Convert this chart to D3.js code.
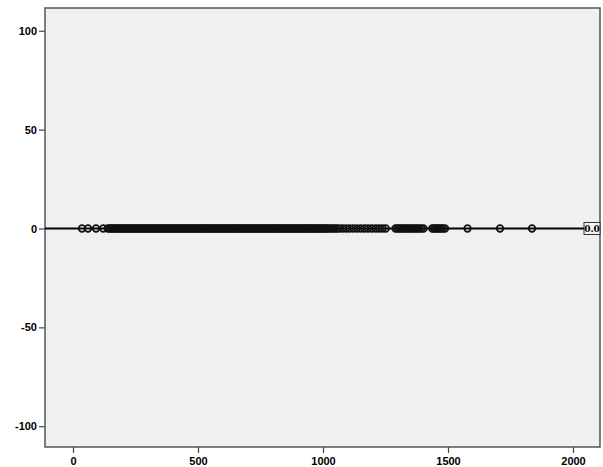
<!DOCTYPE html>
<html>
<head>
<meta charset="utf-8">
<script src="https://cdn.jsdelivr.net/npm/d3@7"></script>
<style>
  body { margin: 0; background: #fff; }
</style>
</head>
<body>
<div id="chart"></div>
<script>
// données (toutes les valeurs y = 0)
const xValues = [36, 60, 92, 121, 139, 147, 153, 160, 166, 171, 178, 185, 190, 197, 203, 208, 215, 221, 228, 233,
  240, 246, 251, 258, 263, 270, 276, 281, 288, 294, 299, 306, 311, 318, 323, 330, 336, 342, 347, 354,
  360, 365, 372, 378, 383, 390, 396, 401, 408, 413, 420, 426, 431, 438, 444, 449, 456, 462, 467, 474,
  480, 485, 492, 498, 503, 510, 516, 521, 528, 534, 539, 546, 552, 557, 564, 570, 575, 582, 588, 593,
  600, 606, 611, 618, 624, 629, 636, 642, 647, 654, 660, 665, 672, 678, 683, 690, 696, 701, 708, 714,
  719, 726, 732, 737, 744, 750, 755, 762, 768, 773, 780, 786, 791, 798, 804, 809, 816, 822, 827, 834,
  840, 845, 852, 858, 863, 870, 876, 881, 888, 894, 899, 906, 912, 917, 924, 930, 935, 942, 948, 953,
  960, 966, 971, 978, 984, 989, 996, 1002, 1008, 1015, 1022, 1030, 1038, 1046, 1055, 1064,
  1078, 1092, 1106, 1121, 1136, 1151, 1166, 1180, 1195, 1210, 1224, 1238, 1251,
  1290, 1298, 1305, 1313, 1320, 1328, 1336, 1344, 1352, 1360, 1368, 1376, 1384, 1393, 1402,
  1437, 1444, 1451, 1458, 1465, 1472, 1479, 1488,
  1578, 1708, 1836];
const yValues = xValues.map(() => 0);
const xTicks = [0, 500, 1000, 1500, 2000];
const yTicks = [100, 50, 0, -50, -100];
const refLine = 0;
const refLabel = "0.0";

const width = 603, height = 467;
const margin = { top: 8, right: 3, bottom: 20, left: 45 };
const fmt = d => String(d); // trait d'union simple, pas de séparateur de milliers

const svg = d3.select("#chart").append("svg")
  .attr("width", width)
  .attr("height", height);

const x = d3.scaleLinear().domain([-112, 2108]).range([margin.left, width - margin.right]);
const y = d3.scaleLinear().domain([-110.5, 111.5]).range([height - margin.bottom, margin.top]);

// fond du graphique
svg.append("rect")
  .attr("x", margin.left)
  .attr("y", margin.top)
  .attr("width", width - margin.right - margin.left)
  .attr("height", height - margin.bottom - margin.top)
  .attr("fill", "#f0f0f0");

// axes
const yAxis = svg.append("g")
  .attr("transform", `translate(${margin.left},0)`)
  .call(d3.axisLeft(y).tickValues(yTicks).tickFormat(fmt).tickSize(6).tickPadding(2).tickSizeOuter(0));
const xAxis = svg.append("g")
  .attr("transform", `translate(0,${height - margin.bottom})`)
  .call(d3.axisBottom(x).tickValues(xTicks).tickFormat(fmt).tickSize(6).tickPadding(4).tickSizeOuter(0));

[xAxis, yAxis].forEach(a => {
  a.select(".domain").remove();
  a.selectAll("line").attr("stroke", "#444").attr("stroke-width", 1.2);
  a.selectAll("text")
    .attr("fill", "#000")
    .style("font-family", "'Liberation Sans', Arial, sans-serif")
    .style("font-weight", "bold")
    .style("font-size", "11px");
});

// cadre
svg.append("rect")
  .attr("x", margin.left)
  .attr("y", margin.top)
  .attr("width", width - margin.right - margin.left)
  .attr("height", height - margin.bottom - margin.top)
  .attr("fill", "none")
  .attr("stroke", "#555")
  .attr("stroke-width", 1.5);

// ligne de référence
svg.append("line")
  .attr("x1", margin.left)
  .attr("x2", width - margin.right)
  .attr("y1", y(refLine))
  .attr("y2", y(refLine))
  .attr("stroke", "#000")
  .attr("stroke-width", 2);

// points
svg.append("g")
  .selectAll("circle")
  .data(xValues)
  .enter()
  .append("circle")
  .attr("cx", d => x(d))
  .attr("cy", (d, i) => y(yValues[i]))
  .attr("r", 3.3)
  .attr("fill", "none")
  .attr("stroke", "#111")
  .attr("stroke-width", 1.7);

// étiquette de la ligne
const lx = width - margin.right - 16, ly = y(refLine) - 6;
svg.append("rect")
  .attr("x", lx)
  .attr("y", ly)
  .attr("width", 16)
  .attr("height", 12)
  .attr("fill", "#f4f4f4")
  .attr("stroke", "#333")
  .attr("stroke-width", 1);
svg.append("text")
  .attr("x", lx + 8)
  .attr("y", ly + 9.5)
  .attr("text-anchor", "middle")
  .style("font-family", "'DejaVu Serif', serif")
  .style("font-weight", "bold")
  .style("font-size", "9px")
  .text(refLabel);
</script>
</body>
</html>
